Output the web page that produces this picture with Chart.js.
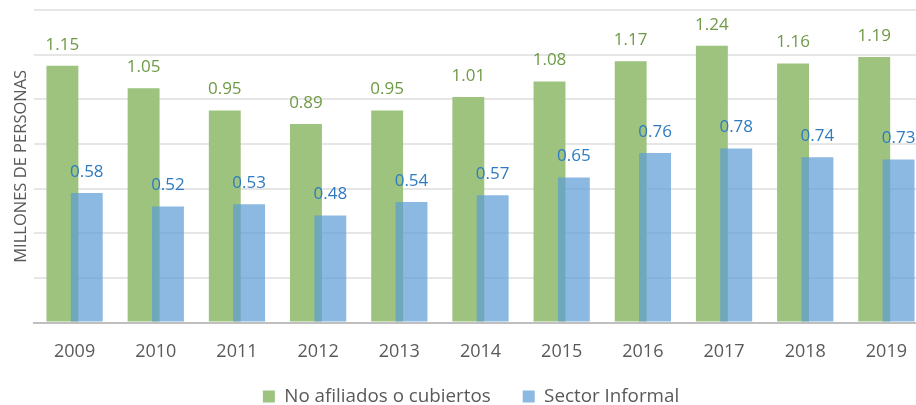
<!DOCTYPE html>
<html>
<head>
<meta charset="utf-8">
<script src="https://cdn.jsdelivr.net/npm/chart.js@4.4.1/dist/chart.umd.min.js"></script>
<style>
  html, body { margin: 0; padding: 0; background: #ffffff; overflow: hidden; }
  #wrap { position: relative; width: 930px; height: 405px; }
</style>
</head>
<body>
<div id="wrap"><canvas id="c" width="930" height="405"></canvas></div>
<script>
const years = ["2009","2010","2011","2012","2013","2014","2015","2016","2017","2018","2019"];
const noAfiliados = [1.15, 1.05, 0.95, 0.89, 0.95, 1.01, 1.08, 1.17, 1.24, 1.16, 1.19];
const sectorInformal = [0.58, 0.52, 0.53, 0.48, 0.54, 0.57, 0.65, 0.76, 0.78, 0.74, 0.73];
const seriesNames = ["No afiliados o cubiertos", "Sector Informal"];
const yTitle = "MILLONES DE PERSONAS";

const FONT = "'Open Sans', 'Noto Sans', sans-serif";
const greenFill = "#9DC37E";
const blueFill = "rgba(91,155,213,0.70)";
const greenText = "#6F9A45";
const blueText = "#2E7BC2";

// draw green (dataset 0) underneath blue (dataset 1)
const orderPlugin = {
  id: 'drawOrder',
  beforeDatasetDraw(chart, args) {
    if (args.index === 0) return false;
    if (args.index === 1) {
      const m0 = chart.getDatasetMeta(0);
      if (m0.visible !== false) m0.controller.draw();
    }
  }
};

const labelPlugin = {
  id: 'barLabels',
  afterDatasetsDraw(chart) {
    const ctx = chart.ctx;
    ctx.save();
    ctx.font = "17px " + FONT;
    ctx.textAlign = "center";
    ctx.textBaseline = "middle";
    chart.data.datasets.forEach((ds, di) => {
      const meta = chart.getDatasetMeta(di);
      ctx.fillStyle = di === 0 ? greenText : blueText;
      meta.data.forEach((bar, i) => {
        ctx.fillText(ds.data[i].toFixed(2), bar.x, bar.y - 21);
      });
    });
    ctx.restore();
  }
};

new Chart(document.getElementById('c'), {
  type: 'bar',
  data: {
    labels: years,
    datasets: [
      { label: seriesNames[0], data: noAfiliados, backgroundColor: greenFill, borderWidth: 0,
        categoryPercentage: 0.60, barPercentage: 1.31 },
      { label: seriesNames[1], data: sectorInformal, backgroundColor: blueFill, borderWidth: 0,
        categoryPercentage: 0.60, barPercentage: 1.31 }
    ]
  },
  options: {
    responsive: false,
    animation: false,
    devicePixelRatio: 1,
    layout: { padding: { top: 10, right: 3, left: 15, bottom: -11 } },
    plugins: {
      legend: {
        position: 'bottom',
        labels: {
          boxWidth: 12, boxHeight: 12, padding: 32,
          color: '#595959',
          font: { family: FONT, size: 18.8 }
        }
      },
      tooltip: { enabled: false }
    },
    scales: {
      x: {
        grid: { display: false, drawTicks: false },
        border: { display: true, color: '#BFBFBF', width: 2 },
        ticks: { color: '#595959', font: { family: FONT, size: 18 }, padding: 18 },
        afterFit(scale) {
          scale.height = scale.height - 25;
          scale._computeLabelArea = function () { return undefined; };
        }
      },
      y: {
        min: 0, max: 1.4,
        ticks: { display: false, stepSize: 0.2 },
        grid: { color: '#E6E6E6', lineWidth: 2, drawTicks: false },
        border: { display: false },
        title: { display: true, text: yTitle, color: '#595959',
                 font: { family: FONT, size: 16.5 }, padding: { top: -4, bottom: 0 } },
        afterFit(scale) { scale.width = 19; }
      }
    }
  },
  plugins: [orderPlugin, labelPlugin]
});
</script>
</body>
</html>
